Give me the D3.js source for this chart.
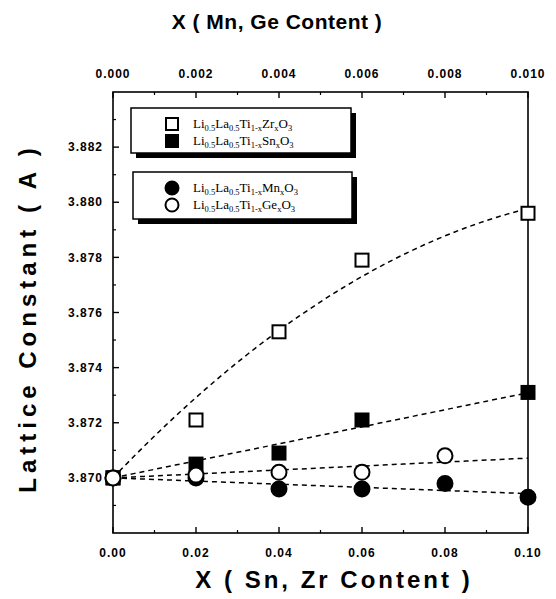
<!DOCTYPE html>
<html>
<head>
<meta charset="utf-8">
<script src="https://cdn.jsdelivr.net/npm/d3@7"></script>
<style>
  body { margin: 0; background: #fff; }
  .tick-label { font-family: "Liberation Sans", Arial, sans-serif; font-weight: bold; font-size: 12px; letter-spacing: 1px; }
  .legend-text { font-family: "Liberation Serif", "Times New Roman", serif; font-size: 13px; }
</style>
</head>
<body>
<svg id="chart" width="556" height="599"></svg>
<script>
// data
var xSnZr = [0, 0.02, 0.04, 0.06, 0.10];
var zrValues = [3.8700, 3.8721, 3.8753, 3.8779, 3.8796];
var snValues = [3.8700, 3.8705, 3.8709, 3.8721, 3.8731];
var xMn = [0, 0.002, 0.004, 0.006, 0.008, 0.010];
var mnValues = [3.8700, 3.8700, 3.8696, 3.8696, 3.8698, 3.8693];
var xGe = [0, 0.002, 0.004, 0.006, 0.008];
var geValues = [3.8700, 3.8701, 3.8702, 3.8702, 3.8708];

var bottomTicks = [0, 0.02, 0.04, 0.06, 0.08, 0.10];
var topTicks = [0, 0.002, 0.004, 0.006, 0.008, 0.010];
var yTicks = [3.870, 3.872, 3.874, 3.876, 3.878, 3.880, 3.882];

var margin = {top: 92, right: 28, bottom: 66, left: 113},
    width = 556 - margin.left - margin.right,
    height = 599 - margin.top - margin.bottom;

var svg = d3.select("#chart");
var g = svg.append("g")
    .attr("transform", "translate(" + margin.left + "," + margin.top + ")");

var x = d3.scaleLinear().domain([0, 0.10]).range([0, width]);
var xTop = d3.scaleLinear().domain([0, 0.010]).range([0, width]);
var y = d3.scaleLinear().domain([3.868, 3.884]).range([height, 0]);

// least squares through the first point (the undoped sample)
function fitThroughOrigin(xs, ys, degree) {
  var x0 = xs[0], y0 = ys[0];
  var s11 = 0, s12 = 0, s22 = 0, b1 = 0, b2 = 0;
  for (var k = 1; k < xs.length; k++) {
    var dx = xs[k] - x0, dy = ys[k] - y0;
    s11 += dx * dx; s12 += dx * dx * dx; s22 += dx * dx * dx * dx;
    b1 += dx * dy; b2 += dx * dx * dy;
  }
  if (degree === 1) {
    var m = b1 / s11;
    return function(t) { return y0 + m * (t - x0); };
  }
  var det = s11 * s22 - s12 * s12;
  var a = (b1 * s22 - s12 * b2) / det;
  var b = (s11 * b2 - s12 * b1) / det;
  return function(t) { var d = t - x0; return y0 + a * d + b * d * d; };
}

// ---- frame and axes ----
g.append("rect")
    .attr("width", width).attr("height", height)
    .attr("fill", "none").attr("stroke", "#000").attr("stroke-width", 1.6);

function minorTicks(majors, minorStep, minV, maxV) {
  return d3.range(minV, maxV + minorStep / 2, minorStep).filter(function(v) {
    return !majors.some(function(m) { return Math.abs(m - v) < minorStep / 10; });
  });
}

// bottom ticks
var bMinor = minorTicks(bottomTicks, 0.01, 0, 0.10);
g.selectAll("line.bmaj").data(bottomTicks).enter().append("line")
    .attr("x1", function(d) { return x(d); }).attr("x2", function(d) { return x(d); })
    .attr("y1", height).attr("y2", height - 6)
    .attr("stroke", "#000").attr("stroke-width", 1.4);
g.selectAll("line.bmin").data(bMinor).enter().append("line")
    .attr("x1", function(d) { return x(d); }).attr("x2", function(d) { return x(d); })
    .attr("y1", height).attr("y2", height - 3)
    .attr("stroke", "#000").attr("stroke-width", 1.2);
g.selectAll("text.bl").data(bottomTicks).enter().append("text")
    .attr("class", "tick-label")
    .attr("x", function(d) { return x(d); })
    .attr("y", height + 24)
    .attr("text-anchor", "middle")
    .text(function(d) { return d3.format(".2f")(d); });

// top ticks
var tMinor = minorTicks(topTicks, 0.001, 0, 0.010);
g.selectAll("line.tmaj").data(topTicks).enter().append("line")
    .attr("x1", function(d) { return xTop(d); }).attr("x2", function(d) { return xTop(d); })
    .attr("y1", 0).attr("y2", 6)
    .attr("stroke", "#000").attr("stroke-width", 1.4);
g.selectAll("line.tmin").data(tMinor).enter().append("line")
    .attr("x1", function(d) { return xTop(d); }).attr("x2", function(d) { return xTop(d); })
    .attr("y1", 0).attr("y2", 3)
    .attr("stroke", "#000").attr("stroke-width", 1.2);
g.selectAll("text.tl").data(topTicks).enter().append("text")
    .attr("class", "tick-label")
    .attr("x", function(d) { return xTop(d); })
    .attr("y", -14)
    .attr("text-anchor", "middle")
    .text(function(d) { return d3.format(".3f")(d); });

// left ticks
var yMinor = minorTicks(yTicks, 0.001, 3.869, 3.883);
g.selectAll("line.ymaj").data(yTicks).enter().append("line")
    .attr("x1", 0).attr("x2", 6)
    .attr("y1", function(d) { return y(d); }).attr("y2", function(d) { return y(d); })
    .attr("stroke", "#000").attr("stroke-width", 1.4);
g.selectAll("line.ymin").data(yMinor).enter().append("line")
    .attr("x1", 0).attr("x2", 3)
    .attr("y1", function(d) { return y(d); }).attr("y2", function(d) { return y(d); })
    .attr("stroke", "#000").attr("stroke-width", 1.2);
g.selectAll("text.yl").data(yTicks).enter().append("text")
    .attr("class", "tick-label")
    .attr("x", -10)
    .attr("y", function(d) { return y(d); })
    .attr("dy", "0.35em")
    .attr("text-anchor", "end")
    .text(function(d) { return d3.format(".3f")(d); });

// axis titles
svg.append("text")
    .attr("x", 334).attr("y", 588)
    .attr("text-anchor", "middle")
    .style("font-family", "Liberation Sans, Arial, sans-serif")
    .style("font-weight", "bold").style("font-size", "24px").style("letter-spacing", "3px")
    .text("X ( Sn, Zr Content )");
svg.append("text")
    .attr("x", 277).attr("y", 29)
    .attr("text-anchor", "middle")
    .style("font-family", "Liberation Sans, Arial, sans-serif")
    .style("font-weight", "bold").style("font-size", "21px").style("letter-spacing", "0.5px")
    .text("X ( Mn, Ge Content )");
svg.append("text")
    .attr("transform", "translate(36,318) rotate(-90)")
    .attr("text-anchor", "middle")
    .style("font-family", "Liberation Sans, Arial, sans-serif")
    .style("font-weight", "bold").style("font-size", "24px").style("letter-spacing", "5px")
    .text("Lattice Constant ( A )");

// ---- fitted dashed lines ----
var fitZr = fitThroughOrigin(xSnZr, zrValues, 2);
var fitSn = fitThroughOrigin(xSnZr, snValues, 1);
var fitMn = fitThroughOrigin(xMn, mnValues, 1);
var fitGe = fitThroughOrigin(xGe, geValues, 1);

var line = d3.line();
function drawFit(fn, scale, maxX) {
  var pts = d3.range(0, 41).map(function(k) {
    var t = maxX * k / 40;
    return [scale(t), y(fn(t))];
  });
  g.append("path")
      .attr("d", line(pts))
      .attr("fill", "none")
      .attr("stroke", "#000")
      .attr("stroke-width", 1.5)
      .attr("stroke-dasharray", "5,4");
}
drawFit(fitZr, x, 0.10);
drawFit(fitSn, x, 0.10);
drawFit(fitGe, xTop, 0.010);
drawFit(fitMn, xTop, 0.010);

// ---- markers ----
var sq = 13;
function squares(xs, ys, filled) {
  g.selectAll(null).data(xs).enter().append("rect")
      .attr("x", function(d) { return x(d) - sq / 2; })
      .attr("y", function(d, i) { return y(ys[i]) - sq / 2; })
      .attr("width", sq).attr("height", sq)
      .attr("fill", filled ? "#000" : "#fff")
      .attr("stroke", "#000").attr("stroke-width", 2);
}
function circles(xs, ys, filled) {
  g.selectAll(null).data(xs).enter().append("circle")
      .attr("cx", function(d) { return xTop(d); })
      .attr("cy", function(d, i) { return y(ys[i]); })
      .attr("r", 7.5)
      .attr("fill", filled ? "#000" : "#fff")
      .attr("stroke", "#000").attr("stroke-width", 2);
}
squares(xSnZr, zrValues, false);
squares(xSnZr, snValues, true);
circles(xMn, mnValues, true);
circles(xGe, geValues, false);

// ---- legend boxes ----
var legendGroups = [
  {box: [131, 108, 220, 45], items: [
    {shape: "square", filled: false, el: "Zr"},
    {shape: "square", filled: true, el: "Sn"}]},
  {box: [133, 172, 219, 47], items: [
    {shape: "circle", filled: true, el: "Mn"},
    {shape: "circle", filled: false, el: "Ge"}]}
];

legendGroups.forEach(function(lg) {
  var b = lg.box;
  svg.append("rect")
      .attr("x", b[0] + 5).attr("y", b[1] + 5).attr("width", b[2]).attr("height", b[3])
      .attr("fill", "#000");
  svg.append("rect")
      .attr("x", b[0]).attr("y", b[1]).attr("width", b[2]).attr("height", b[3])
      .attr("fill", "#fff").attr("stroke", "#000").attr("stroke-width", 1.5);
  lg.items.forEach(function(it, i) {
    var cy = b[1] + 16 + i * 17;
    if (it.shape === "square") {
      svg.append("rect")
          .attr("x", 172 - 6).attr("y", cy - 6).attr("width", 12).attr("height", 12)
          .attr("fill", it.filled ? "#000" : "#fff")
          .attr("stroke", "#000").attr("stroke-width", 2);
    } else {
      svg.append("circle")
          .attr("cx", 172).attr("cy", cy).attr("r", 6.5)
          .attr("fill", it.filled ? "#000" : "#fff")
          .attr("stroke", "#000").attr("stroke-width", 2);
    }
    var t = svg.append("text").attr("class", "legend-text")
        .attr("x", 193).attr("y", cy + 4);
    var parts = [["Li", 0], ["0.5", 1], ["La", 0], ["0.5", 1], ["Ti", 0], ["1-x", 1],
                 [it.el, 0], ["x", 1], ["O", 0], ["3", 1]];
    parts.forEach(function(p) {
      t.append("tspan")
          .attr("font-size", p[1] ? "8.5px" : "13px")
          .attr("baseline-shift", p[1] ? "-3" : "0")
          .text(p[0]);
    });
  });
});
</script>
</body>
</html>
